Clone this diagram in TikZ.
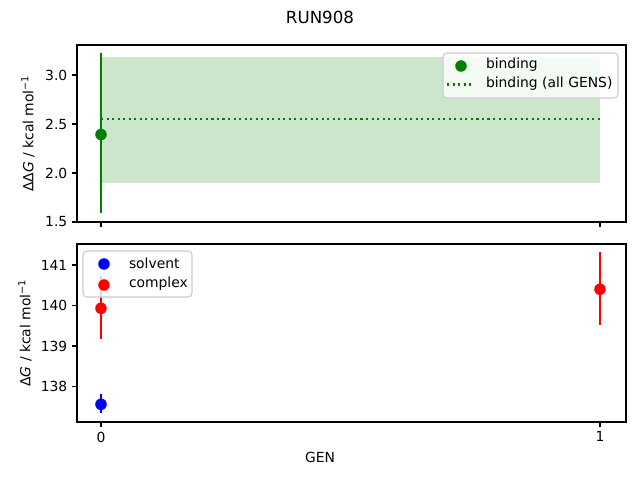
\documentclass[tikz,border=0pt]{standalone}
\usepackage{fontspec}
\setmainfont{DejaVu Sans}
\begin{document}
\begin{tikzpicture}[x=0.72pt,y=-0.72pt,
  every node/.style={inner sep=0pt,outer sep=0pt,font=\fontsize{10}{12}\selectfont},
  axframe/.style={draw=black,line width=0.8pt},
  tick/.style={line width=0.8pt},
  errbar/.style={line width=1.5pt},
  marker/.style={circle,inner sep=0pt,minimum size=8.33},
  legframe/.style={draw=black!20,line width=0.8pt,fill=white,fill opacity=0.8,rounded corners=2.8},
  ticklab/.style={anchor=east},
  xticklab/.style={anchor=north}]
\definecolor{mplgreen}{HTML}{008000}
\definecolor{mplblue}{HTML}{0000FF}
\definecolor{mplred}{HTML}{FF0000}
\definecolor{bandgreen}{HTML}{CCE6CC}
\useasboundingbox (0,0) rectangle (640,480);
\fill[white] (0,0) rectangle (640,480);
% title
\node[font=\fontsize{12}{14}\selectfont] (title) at (320,17) {RUN908};
% ===== top axes =====
\fill[bandgreen] (101,57) rectangle (600,182.5);
\draw[mplgreen,line width=1.5pt,dash pattern=on 1.5pt off 2.475pt] (101,119) -- (600,119);
\coordinate (te1) at (101,53);
\coordinate (te2) at (101,213);
\draw[errbar,mplgreen] (te1) -- (te2);
\node[marker,fill=mplgreen] (tp) at (101,134.5) {};
\draw[axframe] (77,45) rectangle (626,222);
\foreach \v/\y in {3.0/75,2.5/124,2.0/173,1.5/222}{
  \draw[tick] (77,\y) -- (72.14,\y);
  \node[ticklab] at (67.3,\y) {\v};
}
\foreach \x in {101,600}{\draw[tick] (\x,222) -- (\x,226.86);}
\node[rotate=90] (tylab) at (28,133.5) {ΔΔ\textit{G} / kcal mol\textsuperscript{−1}};
% legend top
\draw[legframe] (443,53) rectangle (618,98);
\node[marker,fill=mplgreen] (tlm) at (461,66) {};
\node[anchor=west] (tlt1) at (486,65) {binding};
\coordinate (tld1) at (447,84.5);
\coordinate (tld2) at (473,84.5);
\draw[mplgreen,line width=1.5pt,dash pattern=on 1.5pt off 2.475pt] (tld1) -- (tld2);
\node[anchor=west] (tlt2) at (486,84) {binding (all GENS)};
% ===== bottom axes =====
\draw[errbar,mplblue] (101,394.3) -- (101,413.3);
\node[marker,fill=mplblue] (bs) at (101,404.3) {};
\draw[errbar,mplred] (101,276) -- (101,338.7);
\node[marker,fill=mplred] (bc0) at (101,308.3) {};
\draw[errbar,mplred] (600,252) -- (600,324.7);
\node[marker,fill=mplred] (bc1) at (600,289.3) {};
\draw[axframe] (77,244) rectangle (626,422);
\foreach \v/\y in {141/265,140/305.5,139/346,138/386.3}{
  \draw[tick] (77,\y) -- (72.14,\y);
  \node[ticklab] at (67.3,\y) {\v};
}
\foreach \x/\l in {101/0,600/1}{
  \draw[tick] (\x,422) -- (\x,426.86);
  \node[xticklab] at (\x,431.7) {\l};
}
\node (xlab) at (320,457) {GEN};
\node[rotate=90] (bylab) at (25,333) {Δ\textit{G} / kcal mol\textsuperscript{−1}};
% legend bottom
\draw[legframe] (83,251) rectangle (192,297);
\node[marker,fill=mplblue] (blm1) at (104,264) {};
\node[anchor=west] (blt1) at (129,263) {solvent};
\node[marker,fill=mplred] (blm2) at (104,285) {};
\node[anchor=west] (blt2) at (129,284) {complex};
\end{tikzpicture}
\end{document}
